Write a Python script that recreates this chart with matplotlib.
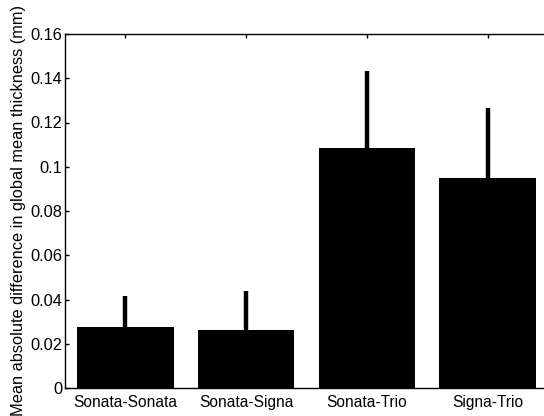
import numpy as np
import matplotlib.pyplot as plt

plt.rcParams['font.family'] = ['Liberation Sans', 'DejaVu Sans']

# data
pairs = ['Sonata-Sonata', 'Sonata-Signa', 'Sonata-Trio', 'Signa-Trio']
meanDiff = [0.0277, 0.0262, 0.1086, 0.0950]
errUpper = [0.0141, 0.0178, 0.0348, 0.0317]
yTicks = [0, 0.02, 0.04, 0.06, 0.08, 0.1, 0.12, 0.14, 0.16]
yTickLabels = ['0', '0.02', '0.04', '0.06', '0.08', '0.1', '0.12', '0.14', '0.16']

fig = plt.figure(figsize=(5.44, 4.16), dpi=100)
# right spine sits just outside the picture, like the original crop
ax = fig.add_axes([65/544, 28/416, 483/544, 354/416])

xs = np.arange(1, len(pairs) + 1)
ax.bar(xs, meanDiff, width=0.8, color='black', zorder=2)

# upper error bars only, thick and without caps
ax.errorbar(xs, meanDiff, yerr=[np.zeros(len(xs)), errUpper], fmt='none',
            ecolor='black', elinewidth=3.2, capsize=0, zorder=3)

ax.set_xlim(0.5, 4.5)
ax.set_ylim(0, 0.16)
ax.set_xticks(xs)
ax.set_xticklabels(pairs, fontsize=11.2)
ax.set_yticks(yTicks)
ax.set_yticklabels(yTickLabels, fontsize=11.8)
ax.tick_params(direction='in', top=True, right=True, length=3, width=1, pad=2)
ax.tick_params(axis='x', pad=5)
for s in ax.spines.values():
    s.set_linewidth(1)

ax.set_ylabel('Mean absolute difference in global mean thickness (mm)', fontsize=11.8, labelpad=3)

fig.savefig('out.png', dpi=100)
